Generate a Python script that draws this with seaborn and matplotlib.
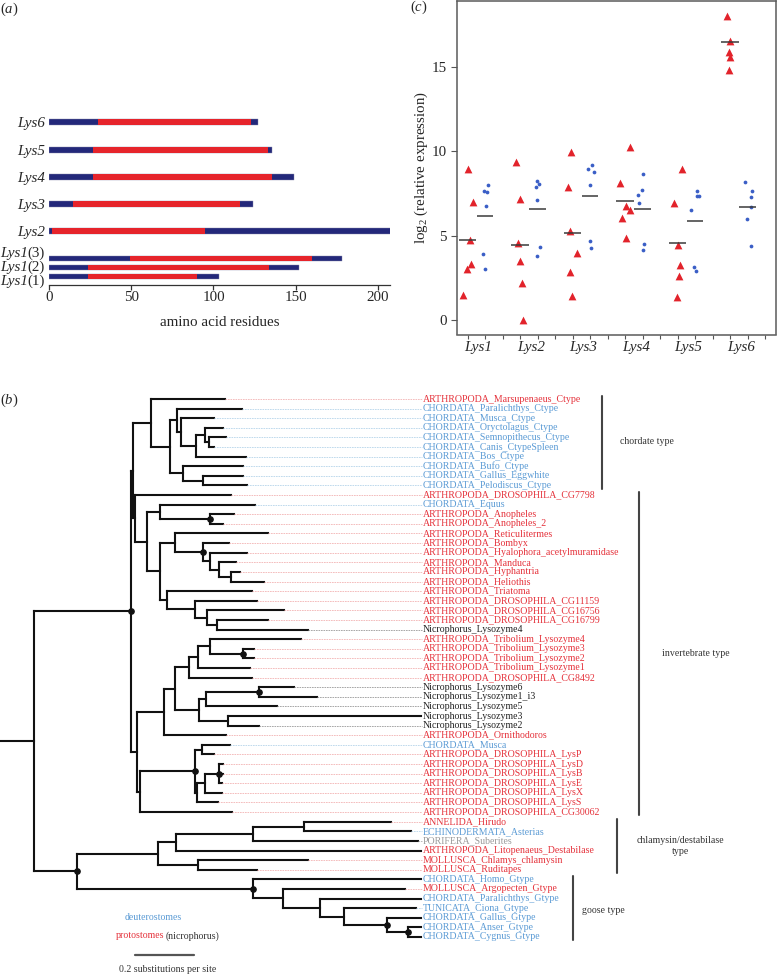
import numpy as np
import pandas as pd
import matplotlib
matplotlib.use("Agg")
import matplotlib.pyplot as plt
import seaborn as sns
from matplotlib.collections import LineCollection
from matplotlib import transforms

sns.set_theme(style="white")
plt.rcParams["font.family"] = ["Liberation Serif", "DejaVu Serif"]
plt.rcParams["mathtext.fontset"] = "custom"
plt.rcParams["mathtext.rm"] = "Liberation Serif"
plt.rcParams["mathtext.it"] = "Liberation Serif:italic"
plt.rcParams["mathtext.bf"] = "Liberation Serif:bold"

# ---------------- data: panel (a) ----------------
a_names = ["Lys6", "Lys5", "Lys4", "Lys3", "Lys2", "Lys1", "Lys1", "Lys1"]
a_suffix = ["", "", "", "", "", "(3)", "(2)", "(1)"]
a_domain_start = [29.4, 26.4, 26.4, 14.2, 1.4, 49.1, 23.4, 23.4]
a_domain_end = [122.8, 133.0, 135.6, 116.0, 95.0, 160.2, 133.8, 90.2]
a_total = [127.3, 135.4, 149.0, 124.3, 212.0, 178.1, 152.3, 103.1]
a_ticks = [0, 50, 100, 150, 200]

# ---------------- data: panel (c) ----------------
genes = ["Lys1", "Lys2", "Lys3", "Lys4", "Lys5", "Lys6"]
tri_vals = [
    [1.48, 3.32, 3.00, 4.75, 7.00, 8.98],
    [7.16, 9.40, 4.59, 3.48, 2.18, 0.00],
    [9.99, 7.88, 5.26, 3.98, 2.83, 1.42],
    [10.29, 8.11, 6.75, 6.51, 6.04, 4.89],
    [8.93, 6.93, 4.47, 3.23, 2.63, 1.33],
    [18.05, 16.56, 15.93, 15.61, 14.86],
]
dot_vals = [
    [8.01, 7.58, 7.68, 6.79, 3.92, 3.00],
    [7.88, 8.07, 8.25, 7.14, 4.33, 3.78],
    [8.81, 8.97, 9.18, 8.03, 4.71, 4.27],
    [8.67, 7.74, 7.44, 6.95, 4.49, 4.12],
    [7.66, 7.38, 7.38, 6.51, 3.13, 2.89],
    [8.17, 7.68, 7.28, 6.71, 5.98, 4.39],
]
tri_means = [4.75, 4.45, 5.18, 7.07, 4.55, 16.49]
dot_means = [6.17, 6.61, 7.36, 6.59, 5.86, 6.71]
c_yticks = [0, 5, 10, 15]

# ---------------- data: panel (b) tree ----------------
tip_names = [
    "ARTHROPODA_Marsupenaeus_Ctype", "CHORDATA_Paralichthys_Ctype", "CHORDATA_Musca_Ctype",
    "CHORDATA_Oryctolagus_Ctype", "CHORDATA_Semnopithecus_Ctype", "CHORDATA_Canis_CtypeSpleen",
    "CHORDATA_Bos_Ctype", "CHORDATA_Bufo_Ctype", "CHORDATA_Gallus_Eggwhite", "CHORDATA_Pelodiscus_Ctype",
    "ARTHROPODA_DROSOPHILA_CG7798", "CHORDATA_Equus", "ARTHROPODA_Anopheles", "ARTHROPODA_Anopheles_2",
    "ARTHROPODA_Reticulitermes", "ARTHROPODA_Bombyx", "ARTHROPODA_Hyalophora_acetylmuramidase",
    "ARTHROPODA_Manduca", "ARTHROPODA_Hyphantria", "ARTHROPODA_Heliothis", "ARTHROPODA_Triatoma",
    "ARTHROPODA_DROSOPHILA_CG11159", "ARTHROPODA_DROSOPHILA_CG16756", "ARTHROPODA_DROSOPHILA_CG16799",
    "Nicrophorus_Lysozyme4", "ARTHROPODA_Tribolium_Lysozyme4", "ARTHROPODA_Tribolium_Lysozyme3",
    "ARTHROPODA_Tribolium_Lysozyme2", "ARTHROPODA_Tribolium_Lysozyme1", "ARTHROPODA_DROSOPHILA_CG8492",
    "Nicrophorus_Lysozyme6", "Nicrophorus_Lysozyme1_i3", "Nicrophorus_Lysozyme5", "Nicrophorus_Lysozyme3",
    "Nicrophorus_Lysozyme2", "ARTHROPODA_Ornithodoros", "CHORDATA_Musca", "ARTHROPODA_DROSOPHILA_LysP",
    "ARTHROPODA_DROSOPHILA_LysD", "ARTHROPODA_DROSOPHILA_LysB", "ARTHROPODA_DROSOPHILA_LysE",
    "ARTHROPODA_DROSOPHILA_LysX", "ARTHROPODA_DROSOPHILA_LysS", "ARTHROPODA_DROSOPHILA_CG30062",
    "ANNELIDA_Hirudo", "ECHINODERMATA_Asterias", "PORIFERA_Suberites", "ARTHROPODA_Litopenaeus_Destabilase",
    "MOLLUSCA_Chlamys_chlamysin", "MOLLUSCA_Ruditapes", "CHORDATA_Homo_Gtype", "MOLLUSCA_Argopecten_Gtype",
    "CHORDATA_Paralichthys_Gtype", "TUNICATA_Ciona_Gtype", "CHORDATA_Gallus_Gtype", "CHORDATA_Anser_Gtype",
    "CHORDATA_Cygnus_Gtype",
]
tip_group = (["p"] + ["d"] * 9 + ["p", "d"] + ["p"] * 12 + ["n"] + ["p"] * 5 + ["n"] * 5
             + ["p", "d"] + ["p"] * 7 + ["p", "d", "g", "p", "p", "p", "d", "p", "d", "d", "d", "d", "d"])
tip_depth = [0.760, 0.815, 0.722, 0.751, 0.762, 0.723, 0.829, 0.819, 0.821, 0.832,
             0.779, 0.861, 0.790, 0.753, 0.903, 0.772, 0.832, 0.796, 0.809, 0.891,
             0.849, 0.866, 0.959, 0.903, 1.038, 1.015, 0.857, 0.857, 0.843, 0.850,
             0.993, 1.068, 0.933, 1.420, 0.874, 0.761, 0.776, 0.723, 0.753, 0.751,
             0.748, 0.748, 0.734, 0.781, 1.318, 1.386, 1.410, 1.420, 1.040, 0.866,
             1.420, 1.366, 1.420, 1.403, 1.420, 1.420, 1.420]
tree_nodes = {
    "R": (0.116, ["A", "G"]), "A": (0.442, ["B", "Y"]), "B": (0.450, ["C", "B2"]),
    "B2": (0.455, [10, "D"]), "C": (0.509, [0, "C2"]), "C2": (0.575, ["C3", "C4"]),
    "C3": (0.598, [1, "C5"]), "C5": (0.610, [2, "C6"]), "C6": (0.660, ["C7", 6]),
    "C7": (0.691, [3, "C8"]), "C8": (0.704, [4, 5]), "C4": (0.618, [7, "C9"]),
    "C9": (0.686, [8, 9]), "D": (0.496, ["E", "F"]), "E": (0.538, [11, "E2"]),
    "E2": (0.708, [12, 13]), "F": (0.538, ["F1", "F2"]), "F1": (0.589, [14, "F3"]),
    "F3": (0.686, [15, "F4"]), "F4": (0.708, [16, "F5"]), "F5": (0.739, [17, "F6"]),
    "F6": (0.778, [18, 19]), "F2": (0.563, [20, "F7"]), "F7": (0.656, [21, "F8"]),
    "F8": (0.697, [22, "F9"]), "F9": (0.731, [23, 24]), "Y": (0.461, ["Z", "X"]),
    "Z": (0.554, ["T5", 35]), "T5": (0.590, ["T4", "N0"]), "T4": (0.638, ["T3", 29]),
    "T3": (0.667, ["T1", 28]), "T1": (0.708, [25, "T2"]), "T2": (0.819, [26, 27]),
    "N0": (0.671, ["N2", "N3"]), "N2": (0.695, ["N1", 32]), "N1": (0.875, [30, 31]),
    "N3": (0.770, [33, 34]), "X": (0.472, ["Dr", 43]), "Dr": (0.658, ["Dr1", "Dr2"]),
    "Dr1": (0.680, [36, 37]), "Dr2": (0.664, ["Dr3", 42]), "Dr3": (0.691, ["Dr4", 41]),
    "Dr4": (0.740, [38, 39, 40]), "G": (0.259, ["H", "K"]), "H": (0.534, ["H1", "H2"]),
    "H1": (0.593, ["H4", 47]), "H4": (0.854, ["H3", 46]), "H3": (1.026, [44, 45]),
    "H2": (0.667, [48, 49]), "K": (0.854, [50, "K1"]), "K1": (0.953, [51, "K2"]),
    "K2": (1.079, [52, "K3"]), "K3": (1.161, [53, "K4"]), "K4": (1.304, [54, "K5"]),
    "K5": (1.377, [55, 56]),
}
supported_nodes = ["A", "E2", "F3", "T2", "N1", "Dr", "Dr4", "G", "K", "K4", "K5"]
clade_names = ["chordate type", "invertebrate type", "chlamysin/destabilase\ntype", "goose type"]
clade_first_last = [(0, 9), (10, 43), (44, 49), (50, 56)]
scale_length = 0.2

# ---------------- styling ----------------
W, H = 777, 975
navy = "#23287a"
bar_red = "#e6242b"
tri_red = "#e2232b"
dot_blue = "#3a5ec6"
lab_col = {"p": "#e5323b", "d": "#5b9bd5", "n": "#222222", "g": "#9a9a9a"}
guide_col = {"p": "#f2b3b3", "d": "#b7d5ea", "n": "#9a9a9a", "g": "#b0b0b0"}
FS = 10.8
TFS = 7.1

fig = plt.figure(figsize=(W / 100, H / 100), dpi=100)


def fax(l, t, r, b, **kw):
    return fig.add_axes([l / W, 1 - b / H, (r - l) / W, (b - t) / H], **kw)


# pixel axes for annotations
axp = fax(0, 0, W, H)
axp.set_xlim(0, W)
axp.set_ylim(H, 0)
axp.axis("off")

# ---------------- panel (b): tree ----------------
px_per_sub = 296.5
tip0_px, tip_step = 399.0, 9.607
axt = fax(0, 0, W, H)
axt.set_xlim(0, W / px_per_sub)
axt.set_ylim((H - tip0_px) / tip_step, -tip0_px / tip_step)
axt.axis("off")

node_y = {}


def get_y(n):
    if isinstance(n, int):
        return float(n)
    if n not in node_y:
        ch = tree_nodes[n][1]
        node_y[n] = (get_y(ch[0]) + get_y(ch[-1])) / 2
    return node_y[n]


def get_x(n):
    return tip_depth[n] if isinstance(n, int) else tree_nodes[n][0]


segs = []
for n, (d, ch) in tree_nodes.items():
    ys = [get_y(c) for c in ch]
    segs.append([(d, min(ys)), (d, max(ys))])
    for c in ch:
        segs.append([(d, get_y(c)), (get_x(c), get_y(c))])
segs.append([(0, get_y("R")), (tree_nodes["R"][0], get_y("R"))])
axt.add_collection(LineCollection(segs, colors="#111111", linewidths=1.5, capstyle="projecting"))

label_x = 423 / px_per_sub
for i, (nm, g, dpt) in enumerate(zip(tip_names, tip_group, tip_depth)):
    if dpt < label_x - 0.01:
        axt.plot([dpt, label_x - 0.005], [i, i], color=guide_col[g], lw=0.6,
                 linestyle=(0, (2, 1)))
    axt.text(label_x, i, nm, color=lab_col[g], fontsize=TFS, va="center", ha="left")

for n in supported_nodes:
    axt.plot(tree_nodes[n][0], get_y(n), "o", color="#111111", ms=3.8, zorder=5)

# clade brackets
bracket_x = [601.7, 639.3, 617.0, 573.3]
text_pos = [(620, 442, "left"), (661.7, 654, "left"), (680.5, 846, "center"), (581.7, 910.7, "left")]
for (f, l), bx, nm, (tx, ty, ha) in zip(clade_first_last, bracket_x, clade_names, text_pos):
    axt.plot([bx / px_per_sub] * 2, [f - 0.3, l + 0.35], color="#444444", lw=1.5)
    axp.text(tx, ty, nm, fontsize=TFS, color="#333333", ha=ha, va="center", linespacing=1.15)

# legend + scale bar
axp.text(153, 917.7, "deuterostomes", color=lab_col["d"], fontsize=TFS, ha="center", va="center")
axp.text(116, 936, "protostomes", color=lab_col["p"], fontsize=TFS, ha="left", va="center")
axp.text(165.7, 936, "(nicrophorus)", color="#333333", fontsize=TFS, ha="left", va="center")
sb_x0 = 135 / px_per_sub
sb_y = (954.7 - tip0_px) / tip_step
axt.plot([sb_x0, sb_x0 + scale_length], [sb_y, sb_y], color="#555555", lw=1.6)
axp.text(168, 969.5, f"{scale_length} substitutions per site", fontsize=TFS, color="#333333",
         ha="center", va="center")

# panel letters
axp.text(0, 9, r"($\it{a}$)", fontsize=10.5, ha="left", va="center")
axp.text(0, 400, r"($\it{b}$)", fontsize=10.5, ha="left", va="center")
axp.text(410.5, 7.5, r"($\it{c}$)", fontsize=10.5, ha="left", va="center")

# ---------------- panel (a) ----------------
axa = fax(49.3, 100, 390, 285)
a_rows = [122, 150, 177, 204, 231, 258.3, 267.3, 276.7]
a_label_base = [127, 155, 182, 209, 236, 257, 270.5, 285]
axa.barh(a_rows, a_total, height=5.2, color=navy, edgecolor="#8888aa", linewidth=0.3)
axa.barh(a_rows, np.subtract(a_domain_end, a_domain_start), left=a_domain_start, height=5.2,
         color=bar_red, linewidth=0)
axa.set_ylim(285, 100)
axa.set_xlim(0, 207.5)
axa.set_facecolor("none")
for s in ["left", "top", "right"]:
    axa.spines[s].set_visible(False)
axa.spines["bottom"].set_color("#333333")
axa.spines["bottom"].set_linewidth(0.9)
axa.set_yticks([])
axa.set_xticks(a_ticks)
axa.tick_params(axis="x", bottom=True, length=3.5, width=0.9, color="#333333", pad=0.5,
                labelsize=FS)
axa.set_xlabel("amino acid residues", fontsize=FS, labelpad=9)

renderer = fig.canvas.get_renderer()
for nm, suf, yy in zip(a_names, a_suffix, a_label_base):
    shift = 0.0
    if suf:
        t = axa.text(-2.6, yy, suf, fontsize=FS, ha="right", va="baseline")
        shift = t.get_window_extent(renderer=renderer).width * 72 / 100
    tr = transforms.offset_copy(axa.transData, fig=fig, x=-shift, y=0, units="points")
    axa.text(-2.6, yy, nm, fontsize=FS, style="italic", ha="right", va="baseline", transform=tr)

# ---------------- panel (c) ----------------
rows = []
for gi, g in enumerate(genes):
    for v in tri_vals[gi]:
        rows.append({"gene": g, "kind": "tri", "value": v, "pos": gi * 3})
    for v in dot_vals[gi]:
        rows.append({"gene": g, "kind": "dot", "value": v, "pos": gi * 3 + 1})
df = pd.DataFrame(rows)

axc = fax(456.7, 0.6, 776, 334.5)
axc.set_facecolor("white")
np.random.seed(7)
sns.stripplot(data=df[df.kind == "tri"], x="pos", y="value", native_scale=True, orient="x",
              jitter=0.1, marker="^", color=tri_red, size=5.6, linewidth=0, ax=axc, zorder=3)
sns.stripplot(data=df[df.kind == "dot"], x="pos", y="value", native_scale=True, orient="x",
              jitter=0.08, marker="o", color=dot_blue, size=2.7, linewidth=0, ax=axc, zorder=3)
gpos = np.arange(len(genes)) * 3
axc.hlines(tri_means, gpos - 0.5, gpos + 0.5, color="#3a3a3a", lw=1.1, zorder=4)
axc.hlines(dot_means, gpos + 1 - 0.47, gpos + 1 + 0.47, color="#3a3a3a", lw=1.1, zorder=4)
axc.set_xlim(-0.63, 17.62)
axc.set_ylim(-0.87, 18.96)
axc.set_xticks(np.arange(18))
axc.set_xticklabels([])
axc.set_xticks(gpos + 0.6, minor=True)
axc.set_xticklabels(genes, minor=True, fontsize=FS, style="italic")
axc.tick_params(axis="x", which="major", bottom=True, length=3, width=0.8, color="#555555")
axc.tick_params(axis="x", which="minor", bottom=False, length=0, pad=5)
axc.set_yticks(c_yticks)
axc.tick_params(axis="y", left=True, length=4, width=0.8, color="#555555", pad=3, labelsize=FS)
axc.set_xlabel("")
axc.set_ylabel(r"log$_2$ (relative expression)", fontsize=FS, labelpad=1)
for s in axc.spines.values():
    s.set_visible(True)
    s.set_color("#5a5a5a")
    s.set_linewidth(1.1)

fig.savefig("out.png", dpi=100)
